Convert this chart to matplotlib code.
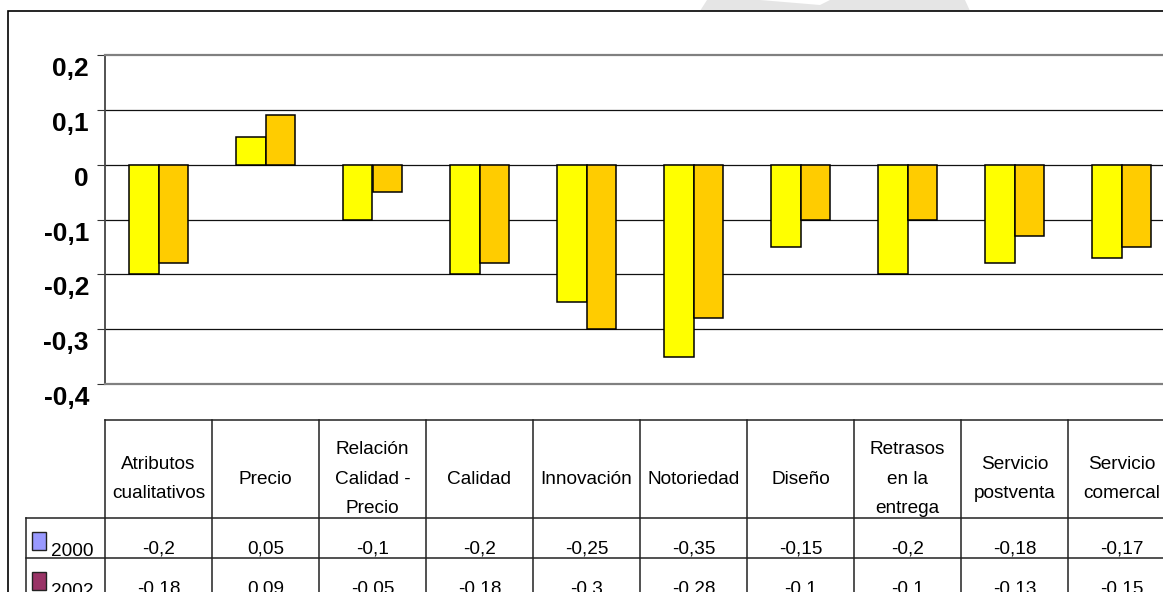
import numpy as np
import matplotlib
matplotlib.use("Agg")
import matplotlib.pyplot as plt
import matplotlib.patches as mpatches
import matplotlib.transforms as mtransforms
from matplotlib.lines import Line2D

plt.rcParams['font.family'] = ['Liberation Sans', 'DejaVu Sans']

categories = ["Atributos\ncualitativos", "Precio", "Relación\nCalidad -\nPrecio",
              "Calidad", "Innovación", "Notoriedad", "Diseño",
              "Retrasos\nen la\nentrega", "Servicio\npostventa", "Servicio\ncomercal"]
series_names = ["2000", "2002"]
vals_2000 = [-0.2, 0.05, -0.1, -0.2, -0.25, -0.35, -0.15, -0.2, -0.18, -0.17]
vals_2002 = [-0.18, 0.09, -0.05, -0.18, -0.3, -0.28, -0.1, -0.1, -0.13, -0.15]
yticks = [-0.4, -0.3, -0.2, -0.1, 0.0, 0.1, 0.2]

bar_colors = ["#FFFF00", "#FFCC00"]
legend_colors = ["#9999FF", "#993366"]

W, H = 1163, 592
fig = plt.figure(figsize=(W / 100, H / 100), dpi=100)


def fx(px):
    return px / W


def fy(py):
    return 1 - py / H


# grey watermark fragment at the top and the outer frame
wm = [(700, 11), (707, 0), (760, 0), (820, 5), (830, 0), (965, 0), (970, 11)]
fig.add_artist(mpatches.Polygon([(fx(a), fy(b)) for a, b in wm], closed=True,
                                transform=fig.transFigure, facecolor="#E5E5E5",
                                edgecolor="none", zorder=0))
fig.add_artist(mpatches.Rectangle((fx(8), fy(640)), fx(1300), 629 / H,
                                  transform=fig.transFigure, fill=False,
                                  edgecolor="black", lw=1.2, zorder=1))

# chart area
left, right, top, bottom = 105, 1175, 55, 384
ax = fig.add_axes([fx(left), fy(bottom), fx(right - left), (bottom - top) / H])
n = len(categories)
x = np.arange(n)
bw = 0.28
ax.bar(x - bw / 2, vals_2000, bw, color=bar_colors[0], edgecolor="black", lw=1.1, zorder=3)
ax.bar(x + bw / 2, vals_2002, bw, color=bar_colors[1], edgecolor="black", lw=1.1, zorder=3)
ax.set_xlim(-0.5, n - 0.5)
ax.set_ylim(-0.4, 0.2)
ax.set_xticks([])
ax.set_yticks(yticks)
ax.set_yticklabels([])
ax.tick_params(axis="y", length=5.8, width=0.8, color="#333333")
for v in yticks[1:-1]:
    ax.axhline(v, color="#111111", lw=0.9, zorder=1)
for s in ["top", "bottom"]:
    ax.spines[s].set_color("#808080")
    ax.spines[s].set_linewidth(1.6)
ax.spines["left"].set_color("#444444")
ax.spines["left"].set_linewidth(1.3)
ax.spines["right"].set_visible(False)

# Excel-style labels sit a little below their gridline
lbl_tr = ax.get_yaxis_transform() + mtransforms.ScaledTranslation(-0.16, -0.14, fig.dpi_scale_trans)
for v in yticks:
    txt = f"{round(v, 2):g}".replace(".", ",") if v != 0 else "0"
    ax.text(0, v, txt, transform=lbl_tr, ha="right", va="center",
            fontsize=19, fontweight="bold")

# data table
tleft = 26
tax = fig.add_axes([fx(tleft), 0, fx(right - tleft), (H - 420) / H])
cw = (right - left) / n
x0 = -0.5 - (left - tleft) / cw
tax.set_xlim(x0, n - 0.5)
tax.set_ylim(H, 420)
tax.axis("off")
lc = "#222222"
lw = 1.1
rows_y = [420, 518, 558, 598]
tax.add_line(Line2D([-0.5, n - 0.5], [420, 420], color=lc, lw=lw, clip_on=False))
for yy in rows_y[1:3]:
    tax.add_line(Line2D([x0, n - 0.5], [yy, yy], color=lc, lw=lw, clip_on=False))
for i in range(n + 1):
    tax.add_line(Line2D([i - 0.5, i - 0.5], [420, 620], color=lc, lw=lw, clip_on=False))
tax.add_line(Line2D([x0, x0], [518, 620], color=lc, lw=lw, clip_on=False))

for i, c in enumerate(categories):
    tax.text(i, 479, c, ha="center", va="center", fontsize=13.7, linespacing=1.95)

for r, (name, vals) in enumerate(zip(series_names, [vals_2000, vals_2002])):
    ytxt = rows_y[r + 1] + 31
    for i, v in enumerate(vals):
        tax.text(i, ytxt, f"{v:g}".replace(".", ","), ha="center", va="center",
                 fontsize=13.7)
    sq_x = x0 + (32 - tleft) / cw
    tax.add_patch(mpatches.Rectangle((sq_x, rows_y[r + 1] + 14), 14 / cw, 18,
                                     facecolor=legend_colors[r], edgecolor="#222222",
                                     lw=1.0, clip_on=False))
    tax.text(x0 + (51 - tleft) / cw, ytxt + 3, name, ha="left", va="center",
             fontsize=13.7)

fig.savefig("out.png", dpi=100)
